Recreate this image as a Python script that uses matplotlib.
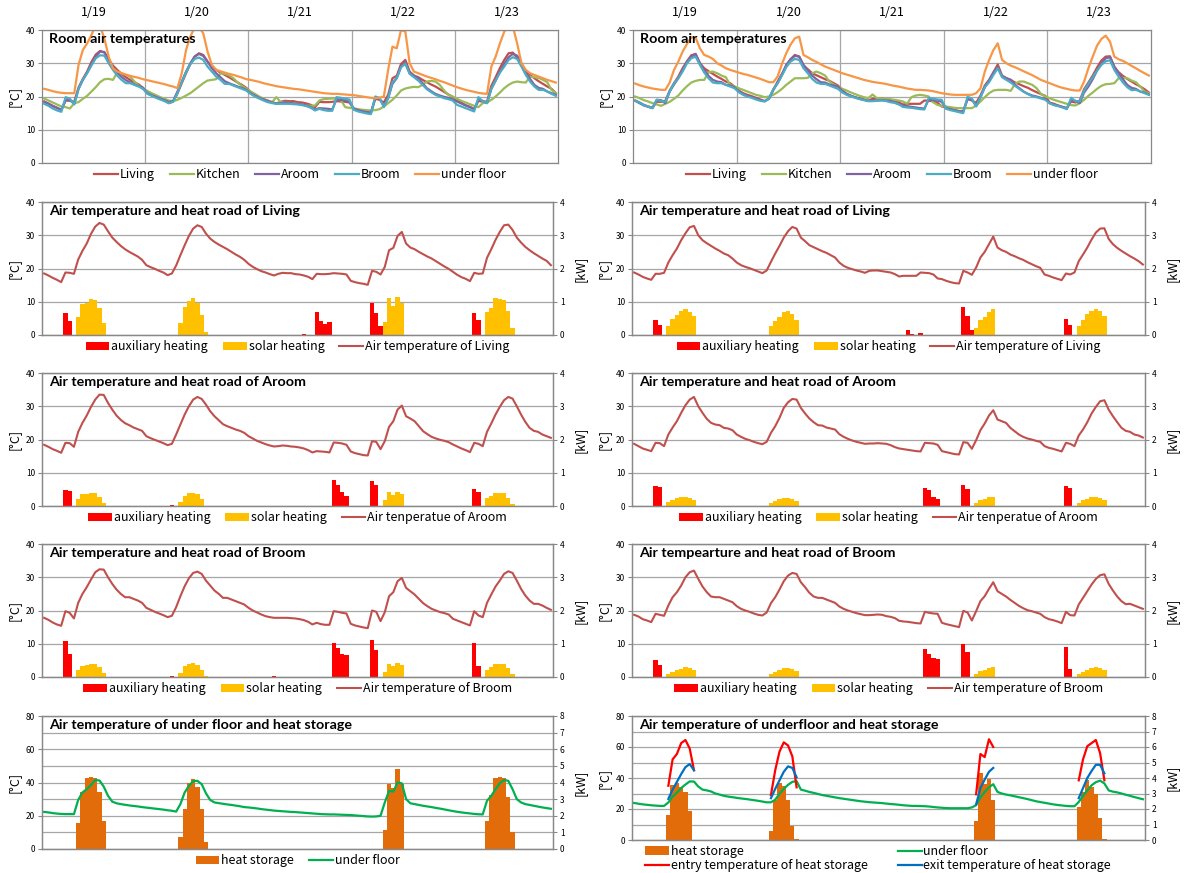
import numpy as np
import matplotlib
matplotlib.use('Agg')
import matplotlib.pyplot as plt
import matplotlib.transforms as mtransforms

W, H = 1185, 873

days = ['1/19', '1/20', '1/21', '1/22', '1/23']
hours = np.arange(120) + 0.5   # hourly values, plotted at category centres

# ---------------- left column (case 1) ----------------
liv_L = [18.5, 17.9, 17.2, 16.6, 15.9, 18.8, 18.7, 18.4, 22.7, 25.3, 27.5, 30.4, 32.6, 33.7, 33.2, 31.2, 29.3, 28.0, 26.8, 25.8, 25.0, 24.3, 23.6, 22.6,
         21.0, 20.4, 19.9, 19.3, 18.8, 18.0, 18.5, 20.9, 24.0, 27.0, 29.8, 32.0, 33.0, 32.5, 30.5, 29.0, 28.0, 27.2, 26.5, 25.8, 25.0, 24.2, 23.5, 22.6,
         21.4, 20.5, 19.8, 19.2, 18.8, 18.3, 17.9, 18.4, 18.7, 18.6, 18.6, 18.3, 18.2, 17.9, 17.5, 16.8, 18.4, 18.3, 18.3, 18.4, 18.6, 18.5, 18.4, 18.2,
         16.3, 15.9, 15.6, 15.4, 15.1, 19.3, 19.0, 18.2, 20.5, 25.5, 26.2, 29.8, 31.0, 27.5, 26.3, 25.8, 25.0, 24.3, 23.6, 23.0, 22.2, 21.4, 20.6, 19.9,
         19.0, 18.1, 17.4, 16.9, 16.2, 18.7, 18.4, 18.5, 23.2, 25.8, 28.6, 31.0, 33.0, 33.2, 31.6, 29.3, 27.8, 26.5, 25.5, 24.6, 23.8, 23.0, 22.3, 21.0]
ki_L = [19.4, 18.8, 18.2, 17.6, 17.0, 16.8, 16.4, 18.0, 18.3, 19.3, 20.2, 21.5, 22.8, 24.3, 25.2, 25.3, 25.0, 27.2, 27.0, 26.5, 26.0, 24.5, 23.2, 22.3,
        21.7, 21.0, 20.4, 19.8, 19.3, 18.8, 18.6, 19.0, 19.6, 20.3, 21.0, 22.0, 23.0, 24.0, 24.8, 25.0, 25.2, 27.0, 26.8, 26.4, 25.5, 24.2, 23.2, 22.3,
        21.5, 20.8, 20.0, 19.3, 18.7, 18.3, 19.8, 18.3, 18.2, 18.1, 18.0, 17.8, 17.6, 17.3, 17.2, 17.3, 18.8, 19.2, 19.3, 19.4, 19.3, 19.0, 16.8, 16.6,
        16.4, 16.2, 16.0, 15.9, 15.8, 15.9, 16.2, 17.0, 18.0, 19.0, 20.3, 21.8, 22.4, 22.7, 22.9, 22.8, 23.5, 24.5, 24.7, 24.5, 23.5, 21.8, 20.5, 20.0,
        19.3, 18.7, 18.2, 17.7, 17.2, 16.8, 18.0, 18.2, 19.0, 20.0, 21.2, 22.5, 23.5, 24.2, 24.5, 24.3, 24.2, 26.0, 25.8, 25.6, 25.0, 24.3, 22.0, 21.0]
ar_L = [18.4, 17.8, 17.1, 16.6, 16.0, 19.0, 18.9, 17.8, 22.3, 25.0, 27.2, 29.8, 32.0, 33.5, 33.4, 31.0, 29.0, 27.2, 25.9, 24.9, 24.3, 23.6, 23.1, 22.6,
        21.0, 20.4, 19.9, 19.4, 18.9, 18.3, 18.7, 21.5, 24.5, 27.5, 30.0, 32.0, 32.8, 32.2, 30.5, 28.5, 27.0, 25.8, 24.6, 24.0, 23.5, 23.0, 22.6, 22.0,
        21.0, 20.3, 19.6, 19.1, 18.6, 18.2, 17.9, 18.0, 18.2, 18.1, 17.9, 17.8, 17.6, 17.3, 16.8, 16.1, 16.5, 16.4, 16.3, 16.1, 19.1, 19.0, 18.8, 18.4,
        16.4, 15.9, 15.6, 15.3, 15.2, 19.5, 19.3, 17.1, 19.5, 23.8, 25.5, 29.0, 30.2, 27.0, 26.3, 25.5, 24.0, 22.5, 21.6, 20.8, 20.3, 19.9, 19.6, 19.2,
        18.5, 17.9, 17.3, 16.8, 16.2, 19.0, 18.7, 18.0, 22.3, 24.8, 27.5, 29.8, 31.8, 32.8, 32.3, 30.0, 27.5, 25.3, 23.5, 22.6, 22.3, 21.5, 21.0, 20.5]
br_L = [17.8, 17.2, 16.4, 15.8, 15.4, 19.8, 19.3, 17.6, 22.3, 25.0, 27.0, 29.3, 31.5, 32.4, 32.3, 30.0, 28.0, 26.3, 25.0, 24.0, 24.0, 23.5, 23.0, 22.3,
        20.8, 20.2, 19.6, 19.1, 18.6, 18.0, 18.4, 21.0, 24.3, 27.3, 29.7, 31.3, 31.7, 31.0, 29.0, 27.5, 26.0, 25.0, 23.8, 23.8, 23.3, 22.8, 22.3, 21.8,
        20.8, 20.0, 19.4, 18.8, 18.3, 18.0, 17.8, 17.8, 17.8, 17.8, 17.7, 17.6, 17.4, 17.1, 16.6, 15.8, 16.3, 15.9, 15.7, 15.7, 19.8, 19.6, 19.3, 19.1,
        16.0, 15.5, 15.2, 14.9, 14.7, 20.0, 19.6, 16.8, 19.5, 24.3, 25.5, 28.8, 29.8, 26.8, 25.8, 24.8, 23.5, 22.2, 21.3, 20.5, 20.0, 19.5, 19.2, 18.8,
        17.5, 17.0, 16.5, 16.0, 15.5, 19.8, 18.5, 18.0, 22.3, 24.8, 27.2, 29.0, 31.0, 31.8, 31.3, 29.0, 26.5, 24.5, 23.0, 22.0, 22.0, 21.5, 20.8, 20.2]
uf_L = [22.3, 22.0, 21.6, 21.3, 21.1, 21.0, 21.0, 21.0, 29.5, 34.0, 36.0, 38.5, 41.5, 41.2, 37.5, 32.0, 28.5, 27.5, 27.0, 26.6, 26.2, 25.9, 25.6, 25.2,
        24.9, 24.6, 24.3, 24.0, 23.7, 23.3, 23.0, 22.5, 27.0, 34.0, 38.0, 40.8, 41.0, 39.0, 33.5, 29.5, 28.0, 27.6, 27.2, 26.8, 26.5, 26.1, 25.7, 25.2,
        25.0, 24.7, 24.4, 24.0, 23.7, 23.4, 23.1, 22.9, 22.7, 22.5, 22.3, 22.2, 22.0, 21.8, 21.6, 21.4, 21.2, 21.0, 20.9, 20.8, 20.8, 20.7, 20.6, 20.5,
        20.4, 20.2, 20.0, 19.8, 19.6, 19.5, 19.6, 20.0, 28.0, 35.0, 34.5, 40.0, 39.5, 30.0, 27.5, 27.0, 26.5, 26.0, 25.6, 25.2, 24.7, 24.3, 23.8, 23.3,
        22.8, 22.4, 22.0, 21.7, 21.4, 21.1, 20.9, 20.8, 29.0, 32.0, 36.0, 39.5, 41.5, 41.0, 36.0, 30.0, 28.0, 27.0, 26.5, 26.0, 25.5, 25.0, 24.6, 24.2]

# bars: (first hour index, hourly values in kW)
aux_liv_L = [(5, [0.65, 0.42]), (61, [0.02]), (64, [0.68, 0.42, 0.33, 0.40]), (77, [0.97, 0.65, 0.28]), (101, [0.65, 0.45])]
sol_liv_L = [(8, [0.53, 0.93, 0.95, 1.07, 1.04, 0.80, 0.37]), (32, [0.37, 0.85, 1.03, 1.10, 0.97, 0.60, 0.10]),
             (80, [0.38, 1.10, 0.88, 1.13, 0.95]), (104, [0.68, 0.82, 1.10, 1.08, 1.05, 0.73, 0.22])]
aux_ar_L = [(5, [0.48, 0.45]), (30, [0.02]), (68, [0.77, 0.63, 0.43, 0.31]), (77, [0.75, 0.62]), (101, [0.50, 0.43])]
sol_ar_L = [(8, [0.20, 0.35, 0.35, 0.40, 0.38, 0.28, 0.10]), (32, [0.12, 0.30, 0.38, 0.40, 0.35, 0.20]),
            (80, [0.17, 0.43, 0.32, 0.43, 0.35]), (104, [0.25, 0.30, 0.40, 0.38, 0.38, 0.25, 0.05])]
aux_br_L = [(5, [1.07, 0.68]), (30, [0.03]), (54, [0.03]), (68, [1.03, 0.87, 0.68, 0.66]), (77, [1.12, 0.82]), (101, [1.02, 0.33])]
sol_br_L = [(8, [0.20, 0.33, 0.35, 0.40, 0.40, 0.30, 0.12]), (32, [0.13, 0.32, 0.38, 0.42, 0.37, 0.22, 0.03]),
            (80, [0.15, 0.40, 0.33, 0.42, 0.35]), (104, [0.22, 0.30, 0.38, 0.40, 0.38, 0.28, 0.08])]
store_L = [(8, [1.55, 3.45, 4.30, 4.35, 4.30, 3.45, 1.70]), (32, [0.70, 2.40, 4.00, 4.20, 3.70, 2.40, 0.40]),
           (80, [1.15, 3.90, 3.65, 4.80, 3.90]), (104, [1.70, 3.25, 4.30, 4.35, 4.30, 3.10, 1.00])]

# ---------------- right column (case 2) ----------------
liv_R = [18.8, 18.2, 17.5, 17.0, 16.6, 18.4, 18.4, 18.7, 21.8, 24.0, 26.0, 28.5, 30.6, 32.4, 32.8, 30.0, 28.5, 27.6, 26.8, 26.0, 25.3, 24.5, 24.0, 23.0,
         21.8, 21.0, 20.5, 20.1, 19.6, 19.1, 18.6, 19.4, 22.0, 24.5, 26.8, 29.3, 31.2, 32.5, 32.0, 29.3, 28.2, 27.0, 26.4, 25.8, 25.2, 24.7, 24.0, 23.3,
         21.8, 20.8, 20.2, 19.8, 19.4, 19.1, 18.7, 19.3, 19.4, 19.4, 19.2, 19.0, 18.8, 18.3, 17.6, 17.8, 17.8, 17.8, 17.8, 18.8, 18.7, 18.6, 18.2, 17.0,
         16.8, 16.3, 15.9, 15.6, 15.5, 19.3, 18.8, 18.1, 20.3, 23.3, 25.0, 27.3, 29.6, 26.3, 25.5, 25.0, 24.2, 23.7, 23.1, 22.6, 21.9, 21.3, 20.7, 20.2,
         18.2, 17.8, 17.3, 16.9, 16.5, 18.5, 18.2, 18.8, 22.2, 24.2, 26.3, 28.7, 30.8, 32.0, 32.1, 28.9, 27.3, 26.2, 25.3, 24.5, 23.7, 23.0, 22.2, 21.2]
ki_R = [20.0, 19.5, 18.9, 18.5, 18.0, 17.6, 17.2, 17.8, 18.4, 19.3, 20.3, 21.8, 23.1, 24.2, 24.7, 25.0, 25.0, 27.3, 27.5, 27.0, 26.3, 25.8, 23.5, 23.0,
        22.5, 22.0, 21.5, 21.0, 20.5, 20.2, 19.8, 20.0, 20.5, 21.3, 22.3, 23.5, 24.5, 25.5, 25.5, 25.5, 25.6, 27.0, 27.5, 27.0, 26.3, 24.5, 23.6, 23.0,
        22.3, 21.8, 21.2, 20.7, 20.2, 19.8, 19.5, 20.6, 19.5, 19.4, 19.3, 19.2, 19.0, 18.8, 18.5, 17.8, 19.8, 20.3, 20.5, 20.3, 20.0, 18.3, 17.5, 17.2,
        17.0, 16.8, 16.6, 16.5, 16.5, 16.5, 16.5, 17.3, 18.5, 19.8, 21.0, 21.8, 22.0, 22.0, 22.0, 21.7, 23.8, 24.5, 24.5, 24.0, 23.5, 22.5, 20.8, 20.0,
        19.5, 19.0, 18.6, 18.2, 17.8, 17.4, 17.3, 18.0, 19.0, 20.2, 21.2, 22.3, 23.2, 23.7, 23.8, 24.0, 25.5, 25.6, 25.5, 24.8, 24.3, 23.0, 21.5, 21.0]
ar_R = [18.7, 18.0, 17.3, 16.9, 16.5, 19.0, 18.9, 18.0, 21.5, 23.6, 25.5, 28.0, 30.3, 32.0, 32.8, 30.0, 28.0, 26.2, 25.0, 24.5, 24.3, 23.5, 23.3, 22.8,
        21.5, 20.8, 20.2, 19.8, 19.3, 18.9, 18.6, 19.3, 22.0, 24.0, 26.5, 29.5, 31.2, 32.2, 32.0, 29.5, 27.8, 26.3, 25.2, 24.3, 24.2, 23.6, 23.3, 23.0,
        21.6, 20.8, 20.2, 19.7, 19.3, 19.0, 18.7, 18.8, 18.8, 18.9, 18.8, 18.7, 18.3, 17.7, 17.3, 17.1, 16.9, 16.7, 16.5, 16.4, 19.0, 18.9, 18.8, 18.4,
        16.5, 16.2, 15.9, 15.6, 15.5, 19.2, 19.0, 17.2, 19.8, 22.8, 24.8, 27.2, 28.8, 26.0, 25.5, 25.0, 23.5, 22.5, 21.5, 20.8, 20.3, 20.0, 19.6, 19.3,
        18.0, 17.5, 17.2, 16.8, 16.4, 19.0, 18.7, 18.0, 21.2, 23.0, 25.2, 27.8, 29.8, 31.5, 31.8, 29.0, 27.0, 25.2, 23.5, 22.6, 22.3, 21.5, 21.2, 20.6]
br_R = [18.7, 18.2, 17.4, 17.0, 16.5, 19.0, 18.7, 18.4, 21.5, 24.0, 25.5, 27.5, 30.0, 31.5, 32.0, 29.5, 27.2, 25.5, 24.2, 24.0, 24.0, 23.5, 23.0, 22.5,
        21.3, 20.5, 20.0, 19.6, 19.1, 18.7, 18.5, 19.4, 22.2, 24.0, 26.3, 28.8, 30.5, 31.3, 31.0, 28.5, 27.0, 25.3, 24.2, 23.8, 23.8, 23.3, 22.8, 22.3,
        21.2, 20.5, 20.0, 19.6, 19.2, 18.9, 18.6, 18.6, 18.7, 18.8, 18.7, 18.3, 18.1, 17.7, 16.9, 16.7, 16.6, 16.4, 16.2, 16.1, 19.6, 19.3, 19.1, 19.0,
        16.3, 15.9, 15.6, 15.3, 15.0, 19.9, 19.4, 17.0, 19.8, 22.8, 24.3, 26.5, 28.5, 25.8, 25.0, 24.2, 23.2, 22.3, 21.4, 20.7, 20.1, 19.8, 19.4, 19.0,
        18.0, 17.4, 17.1, 16.7, 16.2, 19.6, 18.6, 18.5, 21.8, 23.8, 25.8, 27.8, 29.5, 30.6, 30.9, 28.0, 26.0, 24.2, 22.8, 21.9, 22.0, 21.5, 21.0, 20.5]
uf_R = [23.9, 23.4, 23.0, 22.7, 22.4, 22.2, 22.0, 22.0, 24.2, 28.0, 30.5, 33.5, 35.8, 37.8, 37.7, 34.5, 32.5, 32.0, 31.3, 30.0, 29.3, 28.5, 28.0, 27.6,
        27.2, 26.8, 26.5, 26.1, 25.7, 25.3, 24.8, 24.3, 24.3, 26.0, 29.8, 33.0, 35.6, 37.5, 38.0, 32.5, 31.8, 31.0, 30.4, 29.7, 29.0, 28.5, 28.0, 27.5,
        27.0, 26.6, 26.2, 25.8, 25.4, 25.0, 24.7, 24.4, 24.2, 24.0, 23.8, 23.5, 23.2, 23.0, 22.7, 22.4, 22.2, 22.0, 22.0, 21.9, 21.8, 21.6, 21.3, 21.0,
        20.8, 20.6, 20.5, 20.5, 20.5, 20.5, 20.5, 21.0, 22.5, 27.5, 31.0, 34.0, 36.0, 31.0, 30.0, 29.3, 28.8, 28.2, 27.6, 27.0, 26.4, 25.7, 25.0, 24.5,
        24.0, 23.5, 23.0, 22.6, 22.3, 22.0, 21.8, 21.8, 24.5, 28.5, 32.0, 35.3, 37.3, 38.3, 36.5, 32.0, 31.2, 30.7, 30.0, 29.2, 28.5, 27.7, 27.0, 26.3]
entry_R = [(8, [35.0, 52.0, 55.5, 62.5, 64.5, 59.0, 45.0]), (32, [29.0, 45.0, 57.0, 63.0, 61.0, 54.0, 34.0]),
           (80, [29.5, 55.5, 53.5, 65.0, 60.0]), (104, [38.5, 52.0, 60.5, 62.5, 64.5, 56.0, 38.5])]
exit_R = [(8, [26.5, 32.5, 37.5, 42.5, 47.0, 49.0, 45.0]), (32, [27.0, 33.0, 38.5, 44.0, 47.5, 46.5, 40.5]),
          (80, [23.0, 33.5, 39.0, 44.0, 46.5]), (104, [27.0, 33.5, 40.0, 44.5, 48.5, 48.5, 43.0])]

aux_liv_R = [(5, [0.45, 0.30]), (64, [0.15, 0.03]), (67, [0.06]), (77, [0.83, 0.57, 0.15]), (101, [0.47, 0.30])]
sol_liv_R = [(8, [0.27, 0.47, 0.60, 0.72, 0.77, 0.70, 0.57]), (32, [0.28, 0.42, 0.55, 0.68, 0.72, 0.62, 0.45]),
             (80, [0.20, 0.45, 0.55, 0.70, 0.77]), (104, [0.27, 0.45, 0.62, 0.73, 0.77, 0.72, 0.57])]
aux_ar_R = [(5, [0.60, 0.58]), (68, [0.55, 0.47, 0.28, 0.20]), (77, [0.62, 0.52]), (101, [0.60, 0.55])]
sol_ar_R = [(8, [0.12, 0.18, 0.23, 0.27, 0.28, 0.25, 0.18]), (32, [0.10, 0.15, 0.20, 0.23, 0.23, 0.20, 0.15]),
            (80, [0.08, 0.18, 0.22, 0.27, 0.28]), (104, [0.10, 0.17, 0.22, 0.27, 0.28, 0.24, 0.17])]
aux_br_R = [(5, [0.50, 0.35]), (68, [0.83, 0.70, 0.58, 0.55]), (77, [1.00, 0.75]), (101, [0.90, 0.25])]
sol_br_R = [(8, [0.08, 0.15, 0.20, 0.25, 0.30, 0.28, 0.22]), (32, [0.10, 0.15, 0.22, 0.27, 0.28, 0.24, 0.17]),
            (80, [0.08, 0.18, 0.20, 0.26, 0.30]), (104, [0.08, 0.15, 0.22, 0.27, 0.30, 0.28, 0.22])]
store_R = [(8, [1.60, 3.55, 3.70, 3.40, 3.10, 1.90]), (32, [0.60, 2.60, 3.65, 3.50, 2.55, 0.90, 0.05]),
           (80, [1.20, 4.35, 3.60, 3.95, 2.60]), (104, [2.10, 3.10, 3.90, 3.40, 3.00, 1.45, 0.05])]

# colours
C_LIV, C_KIT, C_AR, C_BR, C_UF = '#C0504D', '#9BBB59', '#8064A2', '#4BACC6', '#F79646'
C_AUX, C_SOL, C_STORE, C_UF2 = '#FF0000', '#FFC000', '#E36C0A', '#00B050'
C_ENTRY, C_EXIT = '#FF0000', '#0070C0'
GRID = '#A6A6A6'

JP = ['Noto Sans CJK JP', 'DejaVu Sans']
TITLE = ['Lato', 'DejaVu Sans']

fig = plt.figure(figsize=(W / 100, H / 100), dpi=100)


def seg_xy(segs):
    xs, ys = [], []
    for start, vals in segs:
        for k, v in enumerate(vals):
            xs.append(start + k + 0.5)
            ys.append(v)
    return xs, ys


def style(ax, ymax, step, grid=True):
    ax.set_xlim(0, 120)
    ax.set_ylim(0, ymax)
    ax.set_yticks(range(0, ymax + 1, step))
    ax.set_xticks([24, 48, 72, 96])
    ax.set_xticklabels([])
    ax.tick_params(axis='x', length=0)
    ax.tick_params(axis='y', length=3, width=0.8, color='#888888', labelsize=6, pad=2)
    for lab in ax.get_yticklabels():
        lab.set_family(JP)
    for s in ax.spines.values():
        s.set_color('#888888')
        s.set_linewidth(0.9)
    if grid:
        ax.set_axisbelow(True)
        ax.grid(True, color=GRID, lw=0.9)


def panel(x, top, w, h, title, ymax=40, step=10, kw_max=None):
    ax = fig.add_axes([x / W, 1 - (top + h) / H, w / W, h / H])
    style(ax, ymax, step, grid=kw_max is None)
    ax.set_ylabel('[°C]', family=JP, fontsize=9)
    ax.yaxis.set_label_coords(-0.042, 0.5)
    ax.text(0.013, 0.975, title, transform=ax.transAxes, ha='left', va='top',
            fontsize=10.3, fontweight='bold', family=TITLE, zorder=10)
    ax2 = None
    if kw_max is not None:
        ax2 = ax.twinx()
        style(ax2, kw_max, 1, grid=True)
        ax2.set_ylabel('[kW]', family=JP, fontsize=9)
        ax2.yaxis.set_label_coords(1.04, 0.5)
        ax.set_zorder(ax2.get_zorder() + 1)
        ax.patch.set_visible(False)
    return ax, ax2


def bars(ax, segs, color, label):
    xs, ys = seg_xy(segs)
    return ax.bar(xs, ys, width=1.0, color=color, linewidth=0, label=label, zorder=2)


def legend(ax, handles, labels, y, ncol=None, x=0.5, colsp=1.2, **kw):
    return ax.legend(handles, labels, loc='center', bbox_to_anchor=(x, y), ncol=ncol or len(handles),
                     frameon=False, prop={'family': JP, 'size': 9}, handlelength=1.9,
                     handletextpad=0.15, columnspacing=colsp, borderaxespad=0, **kw)


def room_panel(x, top, w, liv, ki, ar, br, uf):
    ax, _ = panel(x, top, w, 133, 'Room air temperatures')
    ls = []
    for s, c, n in [(liv, C_LIV, 'Living'), (ki, C_KIT, 'Kitchen'), (ar, C_AR, 'Aroom'),
                    (br, C_BR, 'Broom'), (uf, C_UF, 'under floor')]:
        ls.append(ax.plot(hours, s, color=c, lw=1.6, label=n)[0])
    legend(ax, ls, [l.get_label() for l in ls], -0.09)
    tr = mtransforms.blended_transform_factory(ax.transData, ax.transAxes)
    for k, d in enumerate(days):
        ax.text(24 * k + 12, 1.13, d, transform=tr, ha='center', va='center', fontsize=9, family=JP)


def heat_panel(x, top, w, title, temp, aux, sol, line_label):
    ax, ax2 = panel(x, top, w, 133, title, kw_max=4)
    b1 = bars(ax2, aux, C_AUX, 'auxiliary heating')
    b2 = bars(ax2, sol, C_SOL, 'solar heating')
    l1, = ax.plot(hours, temp, color=C_LIV, lw=1.5)
    legend(ax, [b1, b2, l1], ['auxiliary heating', 'solar heating', line_label], -0.09)


# ---------------- left column ----------------
room_panel(42, 30, 516, liv_L, ki_L, ar_L, br_L, uf_L)
heat_panel(42, 202, 511, 'Air temperature and heat road of Living', liv_L, aux_liv_L, sol_liv_L,
           'Air temperature of Living')
heat_panel(42, 373, 511, 'Air temperature and heat road of Aroom', ar_L, aux_ar_L, sol_ar_L,
           'Air tenperatue of Aroom')
heat_panel(42, 544, 511, 'Air temperature and heat road of Broom', br_L, aux_br_L, sol_br_L,
           'Air temperature of Broom')
ax, ax2 = panel(42, 716, 511, 133, 'Air temperature of under floor and heat storage', ymax=80, step=20, kw_max=8)
b = bars(ax2, store_L, C_STORE, 'heat storage')
l, = ax.plot(hours, uf_L, color=C_UF2, lw=1.6)
legend(ax, [b, l], ['heat storage', 'under floor'], -0.09)

# ---------------- right column ----------------
room_panel(633, 30, 518, liv_R, ki_R, ar_R, br_R, uf_R)
heat_panel(632, 202, 513, 'Air temperature and heat road of Living', liv_R, aux_liv_R, sol_liv_R,
           'Air temperature of Living')
heat_panel(632, 373, 513, 'Air temperature and heat road of Aroom', ar_R, aux_ar_R, sol_ar_R,
           'Air tenperatue of Aroom')
heat_panel(632, 544, 513, 'Air tempearture and heat road of Broom', br_R, aux_br_R, sol_br_R,
           'Air temperature of Broom')
ax, ax2 = panel(632, 716, 513, 124, 'Air temperature of underfloor and heat storage', ymax=80, step=20, kw_max=8)
b = bars(ax2, store_R, C_STORE, 'heat storage')
l, = ax.plot(hours, uf_R, color=C_UF2, lw=1.6)
for start, vals in entry_R:
    le, = ax.plot(np.arange(len(vals)) + start + 0.5, vals, color=C_ENTRY, lw=1.6)
for start, vals in exit_R:
    lx, = ax.plot(np.arange(len(vals)) + start + 0.5, vals, color=C_EXIT, lw=1.6)
legend(ax, [b, le, l, lx],
       ['heat storage', 'entry temperature of heat storage', 'under floor', 'exit temperature of heat storage'],
       -0.15, ncol=2, x=0.48, colsp=2.4, labelspacing=0.1)

fig.savefig('out.png', dpi=100)
